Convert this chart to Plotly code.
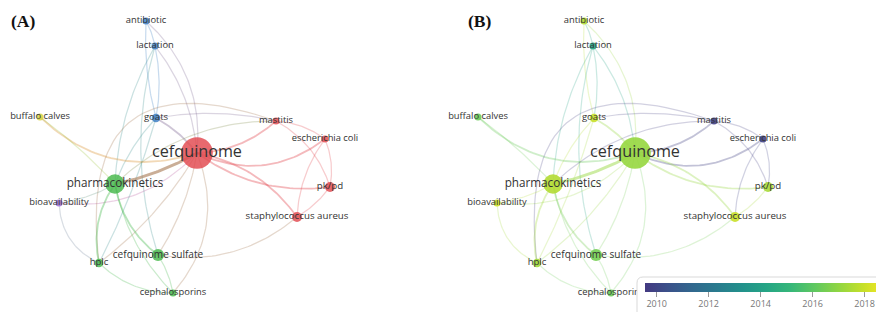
import numpy as np
import plotly.graph_objects as go
from plotly.colors import sample_colorscale

# ---------------- data ----------------
terms = ["antibiotic", "lactation", "goats", "buffalo calves", "mastitis",
         "escherichia coli", "cefquinome", "pharmacokinetics", "pk/pd",
         "bioavailability", "staphylococcus aureus", "cefquinome sulfate",
         "hplc", "cephalosporins"]
map_x = [146, 155, 156, 40, 276, 325, 197, 115, 330, 59, 297, 158, 99, 173]
map_y = [21, 46, 118, 117, 121, 139, 153, 184, 187, 203, 217, 255, 263, 293]
cluster = [3, 3, 3, 4, 1, 1, 1, 2, 1, 5, 1, 2, 2, 2]
occurrences = [2, 2, 3, 2, 2, 2, 40, 15, 4, 2, 4, 6, 3, 2]
avg_year = [2017.6, 2014.2, 2018.0, 2016.3, 2009.8, 2009.9, 2017.1, 2017.6,
            2017.4, 2018.1, 2018.0, 2016.5, 2017.3, 2016.3]

link_source = [0, 0, 0, 1, 1, 1, 1, 2, 2, 2, 2, 3, 3, 6, 6, 6, 6, 6, 9, 6, 6, 6,
               4, 5, 5, 8, 4, 10, 4, 9, 7, 7, 7, 7, 7, 12, 11]
link_target = [6, 1, 2, 2, 6, 7, 11, 6, 7, 12, 4, 6, 7, 4, 5, 8, 10, 7, 6, 13, 11, 12,
               5, 8, 10, 10, 8, 11, 12, 12, 12, 11, 13, 9, 4, 13, 13]
link_strength = [1, 1, 1, 1, 1, 1, 1, 2, 1, 1, 1, 2, 1, 2, 2, 2, 2, 4, 1, 1, 1, 1,
                 1, 1, 1, 1, 1, 1, 1, 1, 2, 2, 1, 1, 1, 1, 1]

year_ticks = [2010, 2012, 2014, 2016, 2018]
year_min, year_max = 2009.55, 2018.9

# ---------------- style ----------------
link_bend = [0.25, 0.08, -0.08, 0.1, 0.15, -0.12, -0.15, 0.1, -0.1, 0.05, 0.1,
             -0.3, 0.05, -0.18, -0.3, -0.2, 0.2, 0.08, -0.25, 0.3, 0.1, 0.1,
             0.15, 0.15, -0.15, 0.1, 0.2, 0.23, -0.8, -0.3, -0.22, -0.2, -0.15,
             0.1, 0.2, -0.2, 0.1]
cluster_colors = {1: "#e2484e", 2: "#45b84b", 3: "#3b7cc3", 4: "#d8d23a", 5: "#9b68d4"}
W, H = 876, 312

# viridis starting from its navy part (as in the reference legend)
vstops = np.linspace(0, 1, 11)
year_scale = [[float(s), c] for s, c in
              zip(vstops, sample_colorscale("Viridis", list(0.17 + 0.83 * vstops)))]


def hex2rgb(h):
    h = h.lstrip("#")
    return tuple(int(h[i:i + 2], 16) for i in (0, 2, 4))


def parse_rgb(s):
    if s.startswith("#"):
        return hex2rgb(s)
    s = s[s.index("(") + 1:s.index(")")]
    return tuple(int(float(v)) for v in s.split(",")[:3])


def rgba(c, a):
    r, g, b = c
    return f"rgba({r},{g},{b},{a})"


def bezier(p0, p1, bend, n=40):
    p0 = np.array(p0, float)
    p1 = np.array(p1, float)
    d = p1 - p0
    c = (p0 + p1) / 2 + bend * np.array([d[1], -d[0]])
    t = np.linspace(0, 1, n)[:, None]
    pts = (1 - t) ** 2 * p0 + 2 * (1 - t) * t * c + t ** 2 * p1
    return pts[:, 0], pts[:, 1]


year_colors = [parse_rgb(c) for c in sample_colorscale(
    year_scale, [(y - year_min) / (year_max - year_min) for y in avg_year])]

fig = go.Figure()

for panel, (xa, ya) in enumerate([("x", "y"), ("x2", "y2")]):
    # edges
    for s, t, w, b in zip(link_source, link_target, link_strength, link_bend):
        xs, ys = bezier((map_x[s], map_y[s]), (map_x[t], map_y[t]), b)
        if panel == 0:
            c1 = hex2rgb(cluster_colors[cluster[s]])
            c2 = hex2rgb(cluster_colors[cluster[t]])
            col = tuple(int(a * 0.6 + b2 * 0.4) for a, b2 in zip(c1, c2))
            alpha = 0.28 + 0.1 * (w - 1)
        else:
            k = s if avg_year[s] <= avg_year[t] else t
            col = year_colors[k]
            alpha = 0.24 + 0.08 * (w - 1)
        fig.add_trace(go.Scatter(
            x=xs, y=ys, mode="lines", xaxis=xa, yaxis=ya,
            line=dict(color=rgba(col, min(alpha, 0.6)), width=0.7 + 0.55 * w),
            hoverinfo="skip", showlegend=False))
    # nodes
    sizes = [5 * np.sqrt(o) for o in occurrences]
    if panel == 0:
        marker = dict(size=sizes,
                      color=[cluster_colors[c] for c in cluster],
                      opacity=0.82, line=dict(width=0))
    else:
        marker = dict(size=sizes, color=avg_year, colorscale=year_scale,
                      cmin=year_min, cmax=year_max, opacity=0.9,
                      line=dict(width=0), showscale=True,
                      colorbar=dict(
                          orientation="h", x=645 / W, xanchor="left",
                          y=(H - 283) / H, yanchor="top",
                          thickness=9, len=243, lenmode="pixels",
                          xpad=0, ypad=0, outlinewidth=0,
                          tickvals=year_ticks, ticks="outside", ticklen=5,
                          tickcolor="#9a9a9a",
                          tickfont=dict(family="Open Sans", size=9, color="#777777")))
    fig.add_trace(go.Scatter(
        x=map_x, y=map_y, mode="markers", xaxis=xa, yaxis=ya,
        marker=marker, hoverinfo="skip", showlegend=False))
    # labels
    fig.add_trace(go.Scatter(
        x=map_x, y=map_y, mode="text", xaxis=xa, yaxis=ya,
        text=terms, textposition="middle center",
        textfont=dict(family="Open Sans", color="#333333",
                      size=[9 + 0.18 * o for o in occurrences]),
        hoverinfo="skip", showlegend=False))

ax = dict(visible=False, showgrid=False, zeroline=False, range=[0, 438], fixedrange=True)
ay = dict(visible=False, showgrid=False, zeroline=False, range=[H, 0], fixedrange=True)

# rounded box around the colour legend
x0, y0, x1, y1 = 637 / W, (H - 277) / H, 884 / W, (H - 318) / H
rx, ry = 6 / W, 6 / H
box = (f"M {x0 + rx},{y0} L {x1 - rx},{y0} Q {x1},{y0} {x1},{y0 - ry} "
       f"L {x1},{y1 + ry} Q {x1},{y1} {x1 - rx},{y1} L {x0 + rx},{y1} "
       f"Q {x0},{y1} {x0},{y1 + ry} L {x0},{y0 - ry} Q {x0},{y0} {x0 + rx},{y0} Z")

fig.update_layout(
    width=W, height=H,
    margin=dict(l=0, r=0, t=0, b=0, pad=0, autoexpand=False),
    paper_bgcolor="white", plot_bgcolor="white",
    xaxis=dict(domain=[0, 0.5], anchor="y", **ax),
    yaxis=dict(domain=[0, 1], anchor="x", **ay),
    xaxis2=dict(domain=[0.5, 1], anchor="y2", **ax),
    yaxis2=dict(domain=[0, 1], anchor="x2", **ay),
    hovermode=False,
    shapes=[dict(type="path", path=box, xref="paper", yref="paper",
                 line=dict(color="#d9d9d9", width=1), fillcolor="white",
                 layer="above")],
    annotations=[
        dict(text="<b>(A)</b>", x=22.5 / W, y=(H - 21) / H, xref="paper", yref="paper",
             xanchor="center", yanchor="middle", showarrow=False,
             font=dict(family="Liberation Serif", size=17.5, color="#111")),
        dict(text="<b>(B)</b>", x=480 / W, y=(H - 21) / H, xref="paper", yref="paper",
             xanchor="center", yanchor="middle", showarrow=False,
             font=dict(family="Liberation Serif", size=17.5, color="#111")),
    ],
)

fig.write_html("out.html", config={"displayModeBar": False},
               post_script="document.body.style.margin='0';document.body.style.overflow='hidden';")
